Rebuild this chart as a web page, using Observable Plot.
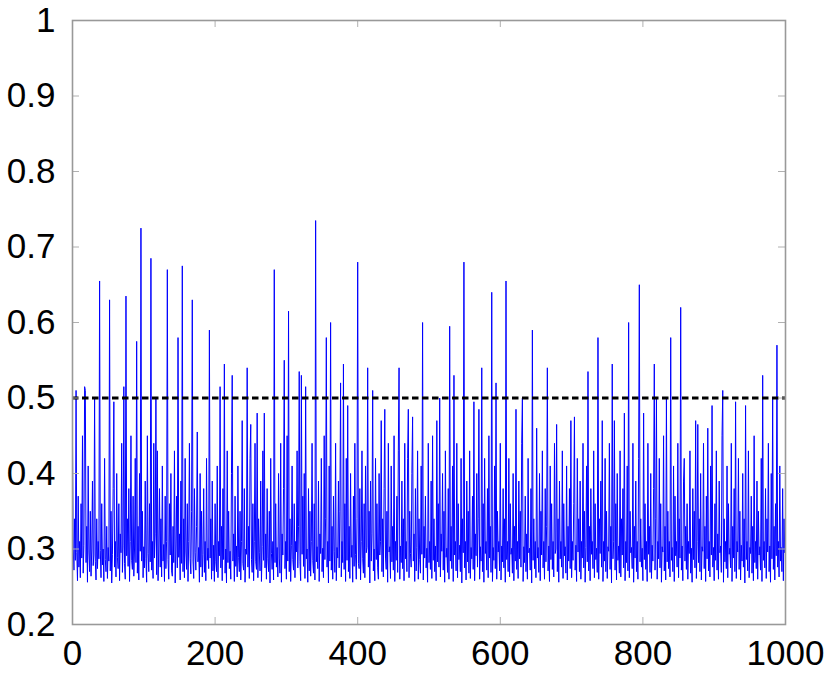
<!DOCTYPE html>
<html><head><meta charset="utf-8">
<script src="https://cdn.jsdelivr.net/npm/d3@7"></script>
<script src="https://cdn.jsdelivr.net/npm/@observablehq/plot@0.6"></script>
<style>body{margin:0;background:#fff}svg{display:block}</style>
</head><body><div id="chart"></div>
<script>
// series values for steps 0..1000
const values = [
.44,.30,.272,.34,.285,.51,.295,.258,.37,.276, .31,.262,.36,.288,.45,.268,.305,.515,.51,.282,
.33,.256,.41,.296,.27,.35,.264,.30,.39,.278, .292,.50,.283,.259,.34,.274,.31,.287,.655,.298,
.262,.36,.279,.30,.257,.42,.286,.27,.33,.261, .302,.284,.63,.271,.35,.255,.293,.38,.495,.276,
.31,.263,.40,.289,.274,.36,.258,.32,.295,.44, .269,.304,.515,.281,.26,.635,.291,.34,.277,.38,
.257,.31,.45,.285,.273,.37,.264,.30,.42,.282, .575,.268,.33,.259,.40,.297,.725,.284,.35,.262,
.303,.275,.39,.287,.256,.45,.294,.27,.36,.283, .685,.272,.31,.261,.44,.288,.32,.50,.266,.43,
.258,.30,.38,.276,.34,.263,.41,.284,.306,.257, .37,.274,.31,.67,.286,.26,.36,.292,.40,.271,
.264,.33,.282,.43,.255,.30,.37,.275,.58,.289, .32,.259,.39,.281,.675,.27,.34,.262,.42,.296,
.273,.36,.257,.31,.44,.287,.267,.35,.63,.284, .261,.38,.295,.272,.33,.455,.283,.302,.256,.40,
.276,.35,.263,.293,.38,.269,.31,.258,.42,.285, .301,.274,.59,.288,.34,.26,.39,.271,.305,.257,
.36,.283,.27,.41,.262,.31,.291,.515,.275,.33, .258,.38,.286,.545,.268,.30,.255,.43,.282,.35,
.274,.297,.26,.40,.53,.284,.32,.257,.37,.277, .304,.263,.41,.289,.27,.35,.259,.31,.47,.281,
.272,.38,.256,.30,.293,.54,.276,.33,.261,.42, .465,.286,.269,.36,.258,.31,.44,.283,.273,.48,
.262,.34,.295,.271,.39,.257,.303,.43,.285,.48, .275,.32,.26,.38,.287,.27,.35,.255,.42,.294,
.273,.31,.259,.67,.282,.36,.276,.302,.263,.40, .288,.268,.44,.256,.32,.292,.38,.55,.274,.31,
.26,.45,.284,.615,.27,.34,.257,.305,.41,.286, .272,.36,.262,.31,.296,.43,.275,.33,.535,.283,
.258,.53,.293,.37,.277,.40,.261,.515,.287,.30, .256,.38,.271,.35,.264,.31,.44,.285,.268,.36,
.259,.735,.283,.303,.274,.39,.257,.32,.294,.42, .27,.301,.262,.45,.286,.34,.58,.276,.31,.255,
.41,.284,.60,.272,.33,.26,.37,.297,.269,.44, .258,.302,.288,.39,.275,.35,.52,.263,.31,.282,
.545,.273,.36,.257,.42,.285,.49,.27,.33,.261, .40,.289,.305,.256,.37,.277,.44,.293,.26,.34,
.68,.281,.274,.38,.259,.31,.43,.287,.268,.36, .262,.41,.295,.302,.54,.276,.35,.255,.39,.284,
.32,.51,.271,.30,.258,.42,.286,.36,.275,.26, .40,.292,.31,.47,.27,.34,.263,.38,.485,.288,
.273,.35,.256,.44,.296,.303,.261,.41,.283,.33, .272,.45,.257,.31,.285,.37,.269,.43,.54,.26,
.304,.282,.39,.274,.34,.258,.44,.287,.31,.27, .42,.485,.262,.35,.294,.276,.40,.475,.284,.32,
.257,.38,.271,.302,.43,.26,.34,.286,.268,.41, .293,.60,.259,.33,.288,.37,.275,.301,.256,.44,
.282,.31,.273,.39,.261,.45,.285,.34,.27,.304, .258,.47,.283,.36,.276,.50,.263,.32,.297,.40,
.272,.35,.256,.43,.289,.301,.269,.38,.26,.595, .284,.33,.274,.41,.257,.53,.292,.31,.271,.44,
.262,.36,.286,.305,.27,.42,.255,.34,.295,.68, .275,.31,.259,.39,.283,.35,.268,.43,.261,.302,
.287,.37,.273,.495,.258,.32,.291,.40,.276,.34, .485,.26,.303,.284,.54,.27,.36,.256,.42,.294,
.31,.272,.38,.262,.45,.288,.33,.269,.64,.257, .302,.285,.41,.274,.52,.26,.35,.296,.31,.271,
.44,.259,.304,.283,.38,.275,.34,.256,.655,.286, .31,.27,.42,.263,.36,.293,.301,.268,.40,.258,
.33,.284,.485,.273,.31,.261,.39,.287,.35,.276, .44,.50,.257,.303,.282,.37,.27,.32,.26,.42,
.295,.301,.272,.38,.255,.59,.285,.34,.274,.31, .262,.46,.288,.302,.269,.40,.258,.35,.292,.43,
.275,.31,.26,.38,.283,.33,.54,.271,.304,.257, .41,.286,.36,.273,.31,.263,.44,.294,.30,.465,
.27,.34,.256,.39,.287,.31,.276,.43,.261,.36, .291,.303,.268,.41,.259,.33,.284,.38,.274,.47,
.262,.31,.285,.36,.475,.272,.305,.257,.42,.296, .34,.27,.39,.26,.31,.288,.44,.275,.35,.256,
.302,.41,.283,.535,.271,.33,.258,.38,.293,.31, .274,.43,.262,.36,.286,.301,.269,.58,.26,.34,
.294,.39,.276,.47,.257,.31,.284,.42,.27,.35, .261,.303,.297,.44,.273,.33,.255,.545,.287,.31,
.47,.272,.36,.259,.40,.285,.304,.268,.43,.263, .34,.292,.38,.275,.48,.258,.31,.282,.41,.271,
.60,.262,.35,.295,.302,.274,.44,.256,.33,.288, .39,.27,.31,.26,.42,.65,.283,.34,.276,.301,
.258,.48,.286,.36,.273,.31,.257,.44,.293,.33, .269,.40,.261,.305,.284,.38,.545,.272,.34,.50,
.26,.31,.287,.42,.275,.36,.256,.303,.296,.45, .271,.33,.259,.50,.283,.35,.274,.31,.263,.58,
.285,.302,.27,.41,.257,.37,.291,.31,.276,.44, .262,.34,.288,.62,.272,.304,.258,.39,.42,.284,
.33,.273,.36,.26,.31,.294,.43,.268,.301,.256, .38,.286,.35,.275,.47,.261,.31,.465,.282,.34,
.27,.40,.259,.303,.297,.44,.274,.33,.257,.37, .287,.46,.271,.31,.263,.41,.292,.49,.276,.302,
.258,.36,.285,.43,.272,.32,.26,.39,.295,.304, .269,.45,.51,.256,.34,.283,.31,.274,.41,.262,
.36,.293,.301,.275,.44,.257,.33,.288,.38,.27, .495,.261,.31,.296,.42,.273,.35,.259,.305,.284,
.40,.276,.34,.255,.49,.286,.31,.271,.43,.262, .302,.294,.37,.268,.33,.258,.45,.282,.31,.274,
.39,.26,.35,.292,.303,.272,.42,.257,.53,.285, .31,.275,.38,.261,.34,.296,.44,.27,.304,.256,
.40,.287,.50,.273,.33,.259,.36,.291,.57,.276, .31,.263,.41,.284,.302,.27,.38,.258,.34,.295,
.33
];
const threshold = 0.5;
const xTicks = [0, 200, 400, 600, 800, 1000];
const yTicks = [0.2, 0.3, 0.4, 0.5, 0.6, 0.7, 0.8, 0.9, 1];

const series = values.map((v, i) => ({step: i, value: v}));
const W = 831, H = 674, mL = 72, mR = 46, mT = 20, mB = 50;
const innerW = W - mL - mR, innerH = H - mT - mB, tick = 7;

const chart = Plot.plot({
  width: W, height: H,
  marginLeft: mL, marginRight: mR, marginTop: mT, marginBottom: mB,
  style: {fontFamily: "'Liberation Sans', Arial, sans-serif", background: "#fff", color: "#000"},
  x: {domain: [0, 1000]},
  y: {domain: [0.2, 1]},
  marks: [
    Plot.line(series, {x: "step", y: "value", stroke: "#0000ff", strokeWidth: 1}),
    Plot.ruleY([threshold], {stroke: "#000", strokeWidth: 3, strokeDasharray: "6.5,3.5"}),
    Plot.ruleX(xTicks, {stroke: "#b0b0b0", strokeWidth: 1, insetTop: innerH - tick}),
    Plot.ruleX(xTicks, {stroke: "#b0b0b0", strokeWidth: 1, insetBottom: innerH - tick}),
    Plot.ruleY(yTicks, {stroke: "#b0b0b0", strokeWidth: 1, insetRight: innerW - tick}),
    Plot.ruleY(yTicks, {stroke: "#b0b0b0", strokeWidth: 1, insetLeft: innerW - tick}),
    Plot.frame({stroke: "#999", strokeWidth: 1.6}),
    Plot.axisX({ticks: xTicks, tickSize: 0, tickPadding: 16, fontSize: 35, tickFormat: d => String(d), label: null}),
    Plot.axisY({ticks: yTicks, tickSize: 0, tickPadding: 17, fontSize: 35, tickFormat: d => d === 1 ? "1" : d.toFixed(1), label: null})
  ]
});
document.getElementById("chart").appendChild(chart);
</script>
</body></html>
